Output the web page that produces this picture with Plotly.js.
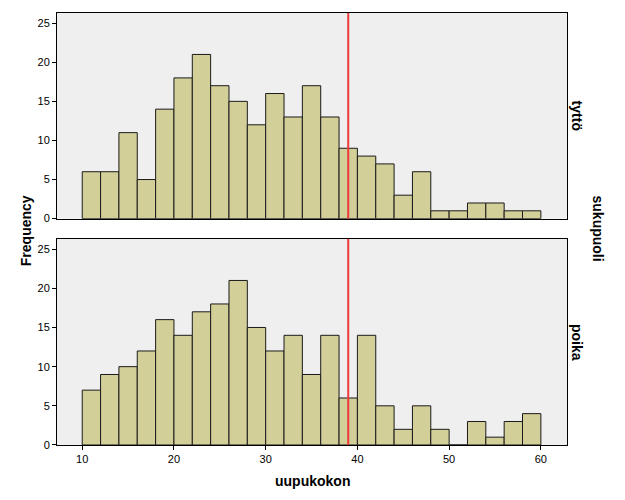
<!DOCTYPE html>
<html>
<head>
<meta charset="utf-8">
<script src="https://cdn.plot.ly/plotly-3.0.1.min.js"></script>
<style>html,body{margin:0;padding:0;background:#fff;}#chart{width:625px;height:500px;}</style>
</head>
<body>
<div id="chart"></div>
<script>
// bin centres (bins of width 2 from 10 to 60)
var binCenters = [11,13,15,17,19,21,23,25,27,29,31,33,35,37,39,41,43,45,47,49,51,53,55,57,59];
var tyttoCounts = [6,6,11,5,14,18,21,17,15,12,16,13,17,13,9,8,7,3,6,1,1,2,2,1,1];
var poikaCounts = [7,9,10,12,16,14,17,18,21,15,12,14,9,14,6,14,5,2,5,2,0,3,1,3,4];
var panelLabels = ["tyttö","poika"];
var refLine = 39;
var xTicks = [10,20,30,40,50,60];
var yTicks = [0,5,10,15,20,25];

var barColor = "#d3cf99";
var font = "Liberation Sans, Arial, sans-serif";

function barTrace(y, xa, ya){
  return {type:"bar", x:binCenters, y:y, width:2, xaxis:xa, yaxis:ya,
    marker:{color:barColor, line:{color:"#1a1a1a", width:1}}, hoverinfo:"x+y", showlegend:false};
}

var data = [barTrace(tyttoCounts,"x","y"), barTrace(poikaCounts,"x2","y2")];

var axisCommon = {showgrid:false, zeroline:false, showline:true, linecolor:"#000", linewidth:1, mirror:true,
  ticks:"outside", ticklen:4, tickcolor:"#000", tickfont:{family:font, size:11, color:"#000"}};

var titleFont = {family:font, size:14, color:"#000"};

var layout = {
  width:625, height:500,
  margin:{l:57, r:58, t:13, b:55},
  paper_bgcolor:"#fff", plot_bgcolor:"#efefef",
  bargap:0,
  xaxis: Object.assign({}, axisCommon, {range:[7.25,62.85], anchor:"y", showticklabels:false, ticks:"", tickvals:xTicks}),
  yaxis: Object.assign({}, axisCommon, {range:[0,26.3], domain:[0.524,1], anchor:"x", tickvals:yTicks}),
  xaxis2: Object.assign({}, axisCommon, {range:[7.25,62.85], anchor:"y2", tickvals:xTicks}),
  yaxis2: Object.assign({}, axisCommon, {range:[0,26.3], domain:[0,0.477], anchor:"x2", tickvals:yTicks}),
  shapes:[
    {type:"line", xref:"x", yref:"y domain", x0:refLine, x1:refLine, y0:0, y1:1, line:{color:"#ee3a3a", width:2}},
    {type:"line", xref:"x2", yref:"y2 domain", x0:refLine, x1:refLine, y0:0, y1:1, line:{color:"#ee3a3a", width:2}}
  ],
  annotations:[
    {text:"<b>uupukokon</b>", xref:"paper", yref:"paper", x:0.5, y:-0.083, showarrow:false,
      font:titleFont, xanchor:"center", yanchor:"middle"},
    {text:"<b>Frequency</b>", xref:"paper", yref:"paper", x:-0.061, y:0.497, textangle:-90, showarrow:false,
      font:titleFont, xanchor:"center", yanchor:"middle"},
    {text:"<b>"+panelLabels[0]+"</b>", xref:"paper", yref:"paper", x:1.02, y:0.762, textangle:90, showarrow:false,
      font:titleFont, xanchor:"center", yanchor:"middle"},
    {text:"<b>"+panelLabels[1]+"</b>", xref:"paper", yref:"paper", x:1.02, y:0.238, textangle:90, showarrow:false,
      font:titleFont, xanchor:"center", yanchor:"middle"},
    {text:"<b>sukupuoli</b>", xref:"paper", yref:"paper", x:1.06, y:0.502, textangle:90, showarrow:false,
      font:titleFont, xanchor:"center", yanchor:"middle"}
  ]
};

Plotly.newPlot("chart", data, layout, {displayModeBar:false, staticPlot:true});
</script>
</body>
</html>
